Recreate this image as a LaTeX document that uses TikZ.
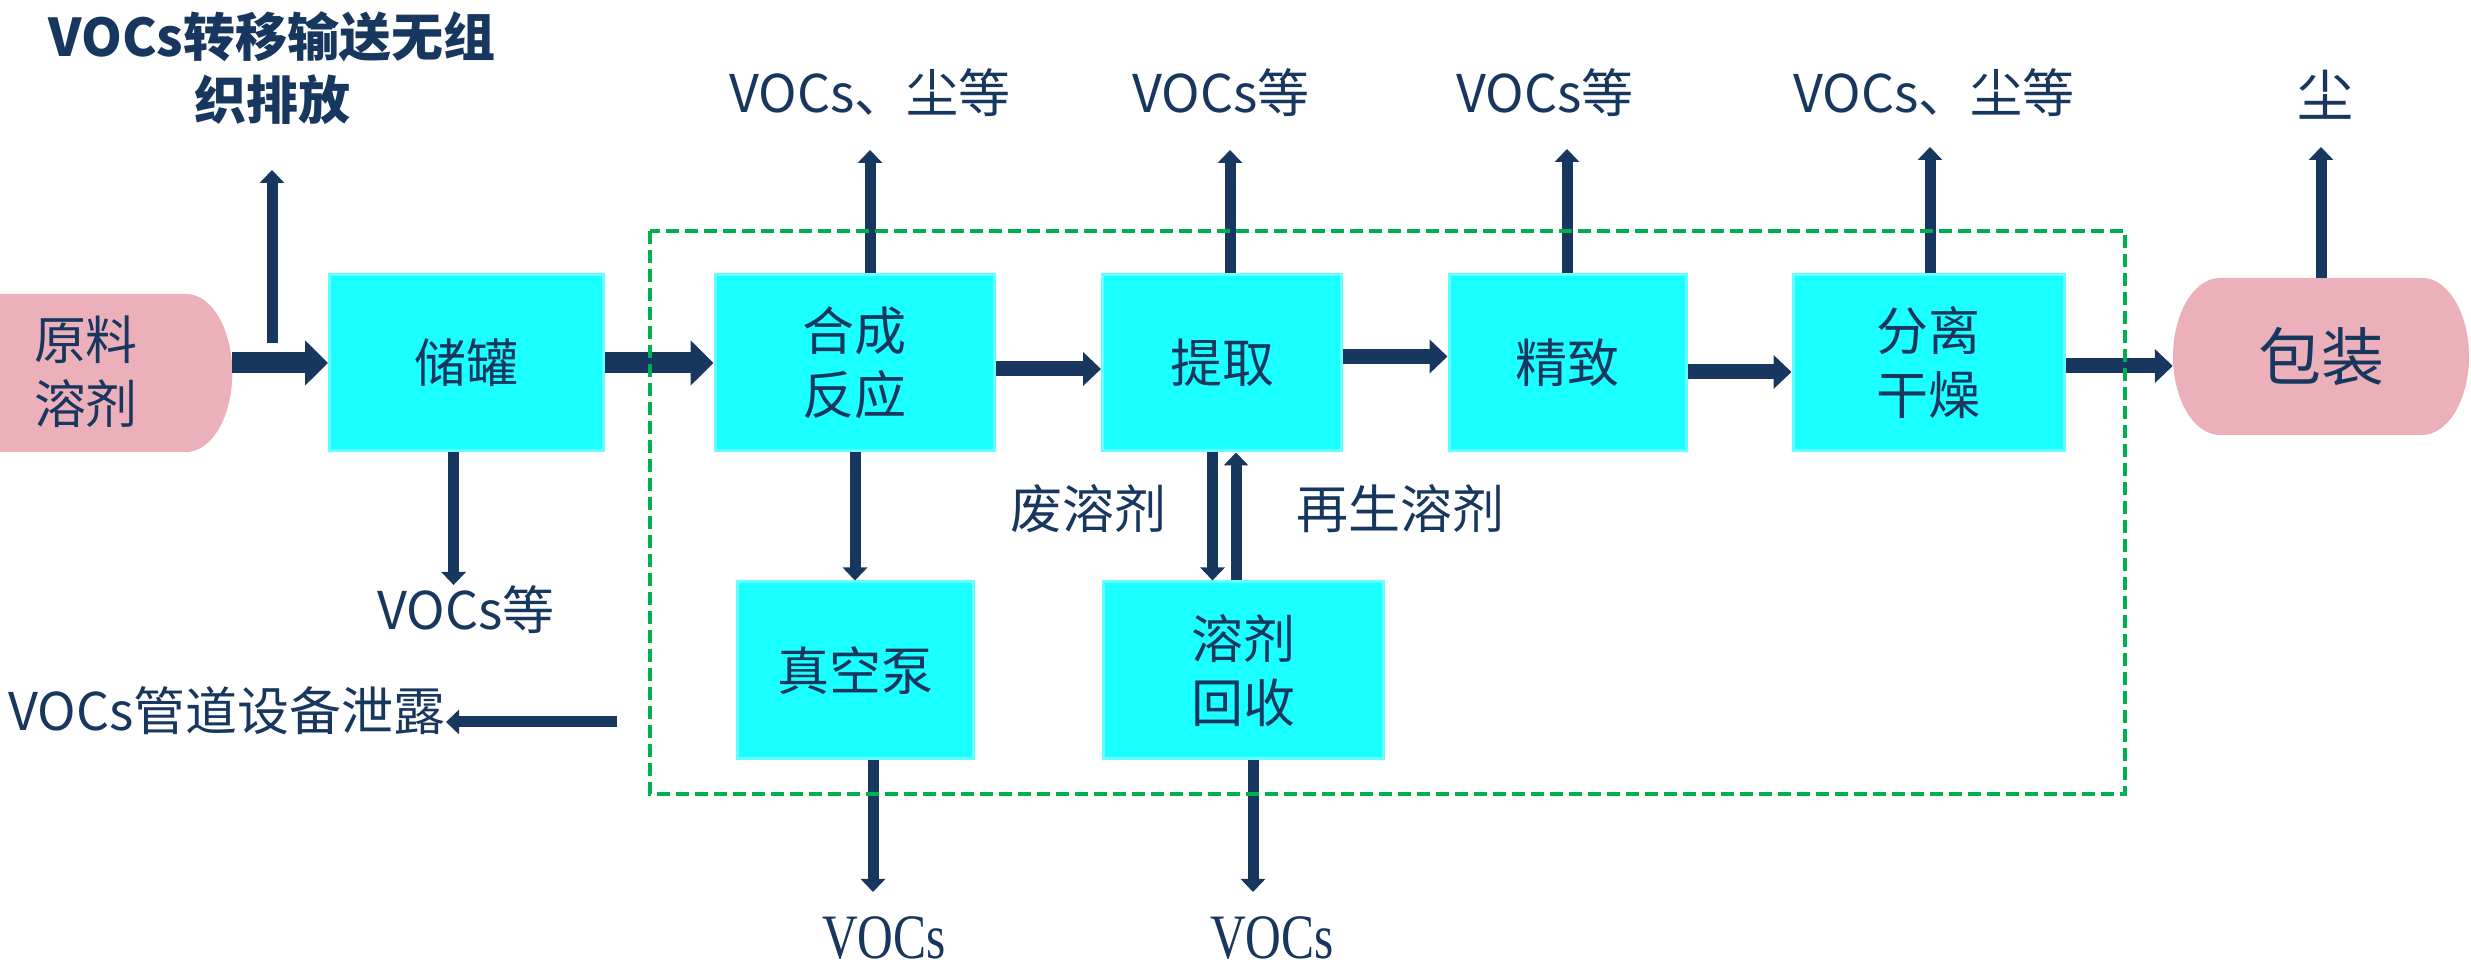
\documentclass[tikz,border=0pt]{standalone}
\usepackage{fontspec}
\setmainfont{Noto Sans CJK SC}
\newfontfamily\serifL{Liberation Serif}
\usetikzlibrary{arrows.meta}
\definecolor{navy}{HTML}{17375E}
\definecolor{boxcyan}{HTML}{1AFFFF}
\definecolor{boxrim}{HTML}{66FFFF}
\definecolor{pinkfill}{HTML}{ECB0BA}
\definecolor{dashgreen}{HTML}{00B050}
\tikzset{
  procbox/.style={draw=boxrim, line width=3pt, fill=boxcyan, minimum height=176pt,
    text=navy, font=\fontsize{52}{64}\selectfont, align=center, inner sep=0pt},
  lbl/.style={text=navy, font=\fontsize{52}{64}\selectfont, align=center, inner sep=0pt},
  bigarrow/.style={draw=navy, line width=21pt, -{Triangle[width=44pt,length=23pt]}},
  midarrow/.style={draw=navy, line width=15pt, -{Triangle[width=33pt,length=18pt]}},
  thinarrow/.style={draw=navy, line width=11pt, -{Triangle[width=24pt,length=13pt]}},
  zone/.style={draw=dashgreen, line width=3.5pt, dash pattern=on 13pt off 6pt},
}
\begin{document}
\begin{tikzpicture}[x=1pt,y=1pt]
\useasboundingbox (0,0) rectangle (2471,973);

% pink end shapes
\fill[pinkfill] (0,679) -- (186.3,679) arc[start angle=90,end angle=-90,x radius=46,y radius=79] -- (0,521) -- cycle;
\fill[pinkfill] (2220,695) -- (2422,695) arc[start angle=90,end angle=-90,x radius=47,y radius=78.5]
  -- (2220,538) arc[start angle=270,end angle=90,x radius=47,y radius=78.5] -- cycle;
\node[lbl] (raw) at (86,601) {原料\\溶剂};
\coordinate (rawE) at (232.3,610);
\node[lbl, font=\fontsize{63}{70}\selectfont, minimum width=296pt, minimum height=157pt] (pack) at (2321,616.5) {包装};

% process boxes
\node[procbox, minimum width=274pt] (tank) at (466.5,610) {储罐};
\node[procbox, minimum width=279pt] (syn) at (854.5,610) {合成\\反应};
\node[procbox, minimum width=239pt] (ext) at (1222,610) {提取};
\node[procbox, minimum width=237pt] (ref) at (1567.5,610) {精致};
\node[procbox, minimum width=271pt] (sep) at (1928.5,610) {分离\\干燥};
\node[procbox, minimum width=236pt, minimum height=177pt] (vac) at (855,302.5) {真空泵};
\node[procbox, minimum width=280pt, minimum height=177pt] (rec) at (1243,302.5) {溶剂\\回收};

% labels
\node[lbl, font=\bfseries\fontsize{52}{63}\selectfont] (ventlbl) at (272,904.5) {VOCs转移输送无组\\织排放};
\node[lbl] (lsyn) at (870,880) {VOCs、尘等};
\node[lbl] (lext) at (1221,880) {VOCs等};
\node[lbl] (lref) at (1545,880) {VOCs等};
\node[lbl] (lsep) at (1934,880) {VOCs、尘等};
\node[lbl, font=\fontsize{56}{64}\selectfont] (lpack) at (2325,878) {尘};
\node[lbl] (ltank) at (466,363) {VOCs等};
\node[lbl, anchor=east] (leak) at (446,262) {VOCs管道设备泄露};
\node[lbl] (waste) at (1088,464) {废溶剂};
\node[lbl] (regen) at (1400,464) {再生溶剂};
\node[lbl, font=\serifL\fontsize{55}{64}\selectfont] (lvac) at (884,35) {\scalebox{0.9}[1.15]{VOCs}};
\node[lbl, font=\serifL\fontsize{55}{64}\selectfont] (lrec) at (1272,35) {\scalebox{0.9}[1.15]{VOCs}};

% main flow arrows
\draw[bigarrow] (rawE) -- (tank.west);
\draw[bigarrow] (tank.east) -- (syn.west);
\draw[midarrow] ([yshift=-6pt]syn.east) -- ([yshift=-6pt]ext.west);
\draw[midarrow] ([yshift=6.5pt]ext.east) -- ([yshift=6.5pt]ref.west);
\draw[midarrow] ([yshift=-9pt]ref.east) -- ([yshift=-9pt]sep.west);
\draw[midarrow] ([yshift=-3pt]sep.east) -- ([yshift=-9.5pt]pack.west);

% emission arrows
\coordinate (ventB) at (272,630);
\coordinate (ventT) at (272,803);
\draw[thinarrow] (ventB) -- (ventT);
\coordinate (synV) at (870,823);
\draw[thinarrow] (syn.north -| synV) -- (synV);
\coordinate (extV) at (1230,823);
\draw[thinarrow] (ext.north -| extV) -- (extV);
\coordinate (refV) at (1567,824);
\draw[thinarrow] (ref.north -| refV) -- (refV);
\coordinate (sepV) at (1930,826);
\draw[thinarrow] (sep.north -| sepV) -- (sepV);
\coordinate (packV) at (2321,826);
\draw[thinarrow] (pack.north) -- (packV);
\coordinate (tankD) at (453.6,388);
\draw[thinarrow] (tank.south -| tankD) -- (tankD);
\coordinate (vacD) at (873,81);
\draw[thinarrow] (vac.south -| vacD) -- (vacD);
\coordinate (recD) at (1253,81);
\draw[thinarrow] (rec.south -| recD) -- (recD);
\draw[thinarrow] (syn.south -| vac.north) -- (vac.north);
\coordinate (dnx) at (1212.5,0);
\coordinate (upx) at (1236,0);
\draw[thinarrow] (ext.south -| dnx) -- (rec.north -| dnx);
\draw[thinarrow] (rec.north -| upx) -- (ext.south -| upx);
\coordinate (leakS) at (617,251);
\draw[thinarrow] (leakS) -- (leak.east |- leakS);

% dashed zone
\draw[zone] (650,742) rectangle (2125,179);
\end{tikzpicture}
\end{document}
